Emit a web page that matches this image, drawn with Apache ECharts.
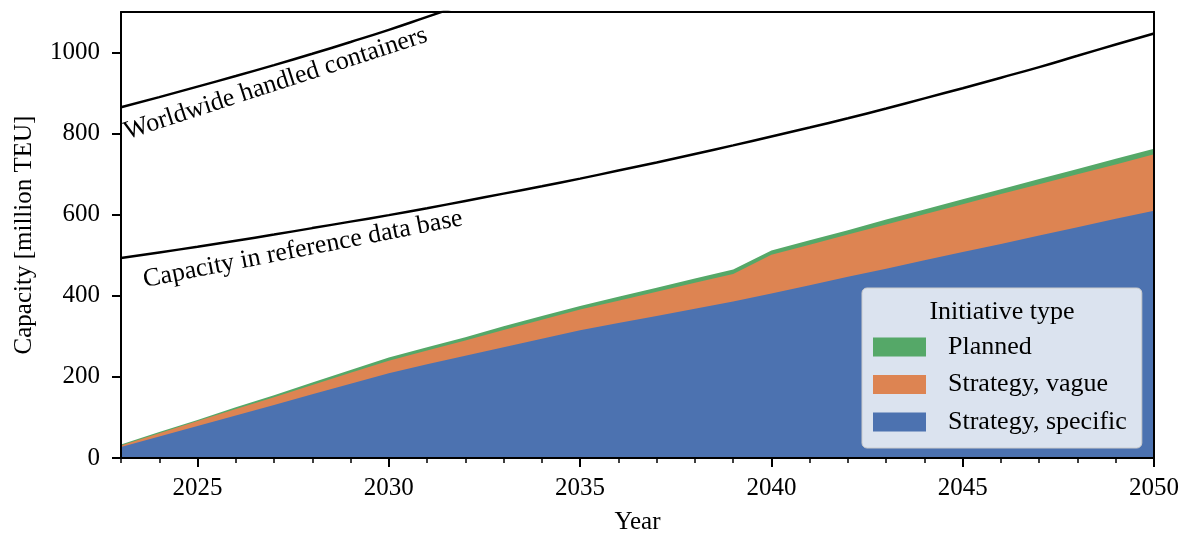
<!DOCTYPE html>
<html>
<head>
<meta charset="utf-8">
<script src="https://cdn.jsdelivr.net/npm/echarts@6/dist/echarts.min.js"></script>
<style>html,body{margin:0;padding:0;background:#fff}#c{width:1189px;height:540px}</style>
</head>
<body>
<div id="c"></div>
<script>
const years = [2023,2024,2025,2026,2027,2028,2029,2030,2031,2032,2033,2034,2035,2036,2037,2038,2039,2040,2041,2042,2043,2044,2045,2046,2047,2048,2049,2050];
const specific = [27,53,79,105,131,157,183,209,231,252,273,294,315,333,350,368,386,406,426,447,467,488,508,528,549,569,590,610];
const vague = [4,8,12,16,19,23,27,31,34,38,43,47,51,55,60,64,68,95,100,104,109,113,118,123,126,131,134,139];
const planned = [2,3,3,4,5,6,7,8,8,8,9,9,9,10,10,11,11,11,11,11,12,12,12,12,13,13,14,14];
const worldYears = [2023,2024,2025,2026,2027,2028,2029,2030,2031,2032,2033];
const worldwide = [865,890,916,942,969,997,1026,1056,1088,1120,1152];
const refCapacity = [493,507,521,536,551,567,583,599,616,634,652,670,689,709,729,750,771,793,815,838,862,887,912,938,964,992,1020,1047];
const majorXTicks = [2025,2030,2035,2040,2045,2050];
const yTicks = [0,200,400,600,800,1000];
const seriesNames = ['Strategy, specific','Strategy, vague','Planned'];
const legendOrder = ['Planned','Strategy, vague','Strategy, specific'];
const colors = ['#4c72b0','#dd8452','#55a868'];

const FONT = 'Liberation Serif';
const pairs = (xs, ys) => xs.map((x, i) => [x, ys[i]]);

// cumulative tops of the stacked layers (bottom layer first)
const layers = [specific, vague, planned];
const tops = [];
let acc = years.map(() => 0);
layers.forEach(arr => { acc = acc.map((v, i) => v + arr[i]); tops.push(acc.slice()); });

const chart = echarts.init(document.getElementById('c'), null, {renderer: 'canvas'});
const grid = {left: 121, right: 35, top: 12, bottom: 80, containLabel: false};

const stackSeries = tops.map((arr, i) => ({
  name: seriesNames[i],
  type: 'line',
  data: pairs(years, arr),
  symbol: 'none',
  showSymbol: false,
  lineStyle: {width: 0, opacity: 0},
  itemStyle: {color: colors[i]},
  areaStyle: {color: colors[i], opacity: 1, origin: 'start'},
  z: 4 - i
}));

chart.setOption({
  animation: false,
  backgroundColor: '#fff',
  textStyle: {fontFamily: FONT},
  grid: grid,
  title: {
    text: 'Initiative type', z: 31,
    left: 1002, top: 299, textAlign: 'center', padding: 0,
    textStyle: {fontFamily: FONT, fontSize: 26, fontWeight: 'normal', color: '#000'}
  },
  legend: {
    data: legendOrder, z: 30,
    orient: 'vertical',
    left: 862, top: 288,
    padding: [46, 15, 13, 11],
    itemGap: 11.5,
    itemWidth: 53, itemHeight: 19,
    icon: 'rect',
    backgroundColor: 'rgba(255,255,255,0.8)',
    borderColor: '#cccccc', borderWidth: 1, borderRadius: 5,
    textStyle: {fontFamily: FONT, fontSize: 26, color: '#000', padding: [0,0,0,17]},
    selectedMode: false
  },
  xAxis: [
    {
      type: 'value', min: 2023, max: 2050, position: 'bottom', z: 10,
      name: 'Year', nameLocation: 'middle', nameGap: 52,
      nameTextStyle: {fontFamily: FONT, fontSize: 25, color: '#000'},
      axisLine: {show: true, lineStyle: {color: '#000', width: 2}},
      axisTick: {show: true, length: 9, customValues: majorXTicks, lineStyle: {color: '#000', width: 2}},
      axisLabel: {customValues: majorXTicks, margin: 18, fontFamily: FONT, fontSize: 25, color: '#000', formatter: v => String(v)},
      splitLine: {show: false}
    },
    {
      type: 'value', min: 2023, max: 2050, position: 'bottom', z: 10,
      axisLine: {show: false},
      axisTick: {show: true, length: 5, customValues: years, lineStyle: {color: '#000', width: 1.5}},
      axisLabel: {show: false},
      splitLine: {show: false}
    },
    {
      type: 'value', min: 2023, max: 2050, position: 'top', z: 10,
      axisLine: {show: true, lineStyle: {color: '#000', width: 2}},
      axisTick: {show: false}, axisLabel: {show: false}, splitLine: {show: false}
    }
  ],
  yAxis: [
    {
      type: 'value', min: 0, max: 1100, position: 'left', z: 10,
      name: 'Capacity [million TEU]', nameLocation: 'middle', nameGap: 84,
      nameTextStyle: {fontFamily: FONT, fontSize: 25, color: '#000'},
      axisLine: {show: true, lineStyle: {color: '#000', width: 2}},
      axisTick: {show: true, length: 9, customValues: yTicks, lineStyle: {color: '#000', width: 2}},
      axisLabel: {customValues: yTicks, margin: 21, fontFamily: FONT, fontSize: 25, color: '#000', formatter: v => String(v)},
      splitLine: {show: false}
    },
    {
      type: 'value', min: 0, max: 1100, position: 'right', z: 10,
      axisLine: {show: true, lineStyle: {color: '#000', width: 2}},
      axisTick: {show: false}, axisLabel: {show: false}, splitLine: {show: false}
    }
  ],
  series: stackSeries.concat([
    {
      name: 'Worldwide handled containers', type: 'line', data: pairs(worldYears, worldwide),
      symbol: 'none', smooth: true, clip: true,
      lineStyle: {color: '#000', width: 2.5}, z: 5
    },
    {
      name: 'Capacity in reference data base', type: 'line', data: pairs(years, refCapacity),
      symbol: 'none', smooth: true, clip: true,
      lineStyle: {color: '#000', width: 2.5}, z: 5
    }
  ]),
  graphic: [
    {
      type: 'text', x: 129, y: 145, rotation: 18 * Math.PI / 180, z: 20,
      style: {text: 'Worldwide handled containers', fontFamily: FONT, fontSize: 26, fill: '#000', align: 'left', verticalAlign: 'bottom'}
    },
    {
      type: 'text', x: 146, y: 293, rotation: 11 * Math.PI / 180, z: 20,
      style: {text: 'Capacity in reference data base', fontFamily: FONT, fontSize: 26, fill: '#000', align: 'left', verticalAlign: 'bottom'}
    }
  ]
});
</script>
</body>
</html>
